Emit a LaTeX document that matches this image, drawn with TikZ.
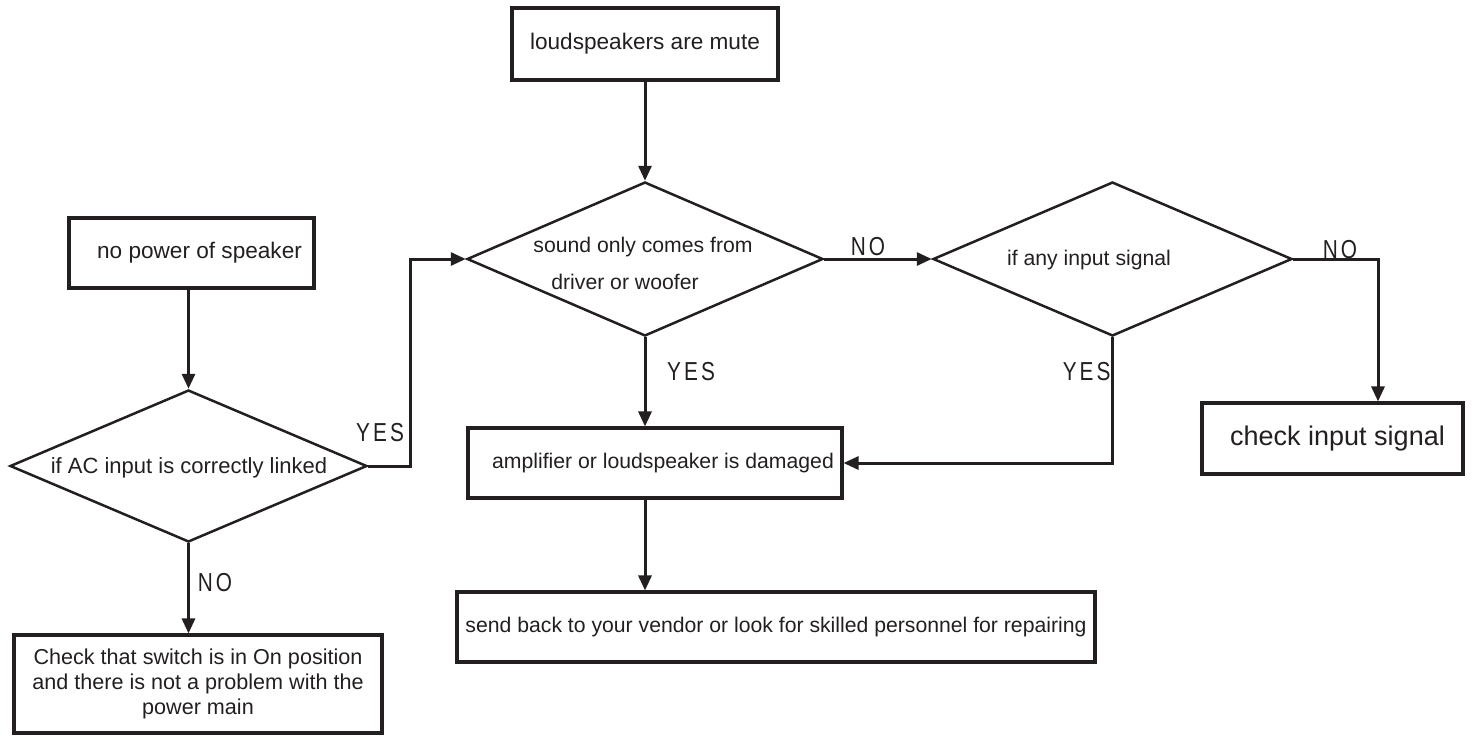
\documentclass[tikz,border=0pt]{standalone}
\usepackage{fontspec}
\setmainfont{Liberation Sans}
\newfontfamily\labfont[FakeStretch=0.8,LetterSpace=12]{Liberation Sans}
\usetikzlibrary{shapes.geometric,arrows.meta,calc}
\definecolor{ink}{HTML}{231F20}
\tikzset{
  box/.style={draw=ink, line width=1.55pt, rectangle, inner sep=0pt, align=center, text=ink},
  dia/.style={draw=ink, line width=1.25pt, diamond, inner sep=0pt, aspect=2.3},
  txt/.style={text=ink, inner sep=0pt, align=center},
  conn/.style={draw=ink, line width=1.5pt},
  arr/.style={conn, -{Triangle[length=7.5pt,width=6.5pt]}},
  lab/.style={font=\labfont\fontsize{13}{15}\selectfont, text=ink, inner sep=0pt},
  f105/.style={font=\fontsize{10.6}{12.5}\selectfont},
}
\begin{document}
\begin{tikzpicture}[x=0.5pt,y=-0.5pt]
\useasboundingbox (0,0) rectangle (1472,736);

% boxes
\node[box, minimum width=133pt, minimum height=36pt, font=\fontsize{11.3}{13}\selectfont] (mute) at (645,44) {loudspeakers are mute};
\node[box, minimum width=122.5pt, minimum height=35pt, font=\fontsize{11.3}{13}\selectfont] (nopow) at (191.5,253) {\hspace*{8pt}no power of speaker};
\node[box, minimum width=187pt, minimum height=35pt, f105] (amp) at (655,463) {\hspace*{8pt}amplifier or loudspeaker is damaged};
\node[box, minimum width=130.5pt, minimum height=35.5pt, font=\fontsize{13.5}{16}\selectfont] (chk) at (1332.5,438.5) {\hspace*{5pt}check input signal};
\node[box, minimum width=319pt, minimum height=35pt, f105] (send) at (776,627) {send back to your vendor or look for skilled personnel for repairing};
\node[box, minimum width=184pt, minimum height=49pt, font=\fontsize{10.8}{12.5}\selectfont] (chkpow) at (198,684) {Check that switch is in On position\\and there is not a problem with the\\power main};

% diamonds
\node[dia, minimum width=178pt, minimum height=77pt] (d1) at (645,259) {};
\node[txt, f105] (d1a) at (643,247) {sound only comes from};
\node[txt, f105] (d1b) at (625,282) {driver or woofer};
\node[dia, minimum width=179.5pt, minimum height=77pt] (d2) at (1112.5,259) {};
\node[txt, f105] (d2t) at (1089,260) {if any input signal};
\node[dia, minimum width=178.5pt, minimum height=76pt] (d3) at (188.5,466) {};
\node[txt, font=\fontsize{11}{13}\selectfont] (d3t) at (189,468) {if AC input is correctly linked};

% helper coordinates
\coordinate (c3) at (410,466);

% connectors
\draw[arr] (mute.south) -- (d1.north);
\draw[arr] (d1.east) -- (d2.west);
\draw[arr] (d2.east) -| ($(chk.north)+(45.5,0)$);
\draw[arr] (d2.south) |- (amp.east);
\draw[arr] (d1.south) -- (d1.south |- amp.north);
\draw[arr] (d1.south |- amp.south) -- (d1.south |- send.north);
\draw[arr] (nopow.south -| d3.north) -- (d3.north);
\draw[arr] (d3.east) -- (c3) |- (d1.west);
\draw[arr] (d3.south) -- (d3.south |- chkpow.north);

% labels
\node[lab] (l1) at (868,247) {NO};
\node[lab] (l2) at (1340,250) {NO};
\node[lab] (l3) at (691,372) {YES};
\node[lab, anchor=east] (l4) at (1111,372) {YES};
\node[lab] (l5) at (380,433) {YES};
\node[lab] (l6) at (215,583) {NO};
\end{tikzpicture}
\end{document}
